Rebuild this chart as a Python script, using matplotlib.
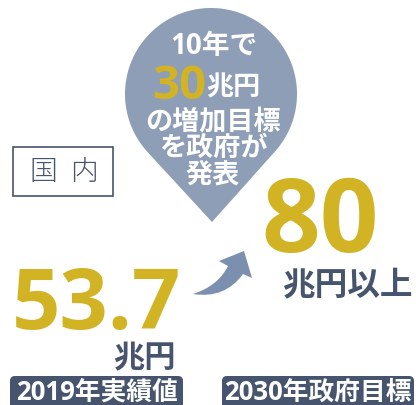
import numpy as np
import matplotlib
matplotlib.use("Agg")
import matplotlib.pyplot as plt
from matplotlib.patches import Polygon, FancyBboxPatch, Rectangle, PathPatch
from matplotlib.path import Path

plt.rcParams['font.family'] = ['Open Sans', 'Noto Sans CJK JP', 'DejaVu Sans']
JP = ['Noto Sans CJK JP', 'DejaVu Sans']

# values shown in the infographic
region = ["国", "内"]
years = ["2019年実績値", "2030年政府目標"]
values = ["53.7", "80"]
units = ["兆円", "兆円以上"]
increase = "30"
bubble_lines = ["の増加目標", "を政府が", "発表"]

GOLD = "#d2b324"
NAVY = "#46546d"
BUBBLE = "#8d9eb6"
ARROW = "#7b90ae"

W, H = 416, 406
fig = plt.figure(figsize=(W / 100, H / 100), dpi=100)
ax = fig.add_axes([0, 0, 1, 1])
ax.set_xlim(0, W)
ax.set_ylim(H, 0)
ax.axis('off')

# teardrop bubble
cx, cy, r = 211, 95, 86
tip = np.array([212, 223])
d = np.hypot(tip[0] - cx, tip[1] - cy)
th = np.degrees(np.arccos(r / d))
base = np.degrees(np.arctan2(tip[1] - cy, tip[0] - cx))
angs = np.radians(np.linspace(base - th, base + th - 360, 200))
pts = np.column_stack([cx + r * np.cos(angs), cy + r * np.sin(angs)])
pts = np.vstack([pts, tip])
ax.add_patch(Polygon(pts, closed=True, fc=BUBBLE, ec='none'))

ax.text(214, 46, "10年で", ha='center', va='center', color='white',
        fontsize=20, fontweight='bold')
ax.text(206, 99, increase, ha='right', va='baseline', color=GOLD,
        fontsize=34, fontweight='bold')
ax.text(206, 87, "兆円", ha='left', va='center', color='white',
        fontsize=19.5, fontweight='bold', family=JP)
for i, line in enumerate(bubble_lines):
    ax.text(213, 121 + i * 27, line, ha='center', va='center', color='white',
            fontsize=19.5, fontweight='bold', family=JP)

# region box
ax.add_patch(Rectangle((13, 148), 100, 49, fc='white', ec=NAVY, lw=1.2))
for x, ch in zip([43, 84], region):
    ax.text(x, 172, ch, ha='center', va='center', color=NAVY,
            fontsize=20, fontweight='light', family=JP)

# values
ax.text(96, 329, values[0], ha='center', va='baseline', color=GOLD,
        fontsize=61, fontweight='bold')
ax.text(176, 358, units[0], ha='right', va='center', color=NAVY,
        fontsize=22.5, fontweight='bold', family=JP)
ax.text(320, 252, values[1], ha='center', va='baseline', color=GOLD,
        fontsize=74, fontweight='bold')
ax.text(413, 286, units[1], ha='right', va='center', color=NAVY,
        fontsize=23.5, fontweight='bold', family=JP)

# curved arrow
verts = [(193, 295), (218, 287), (228, 267), (219, 262), (244, 252),
         (252, 279), (243, 275), (225, 300), (193, 295), (193, 295)]
codes = [Path.MOVETO, Path.CURVE3, Path.CURVE3, Path.LINETO, Path.LINETO,
         Path.LINETO, Path.LINETO, Path.CURVE3, Path.CURVE3, Path.CLOSEPOLY]
ax.add_patch(PathPatch(Path(verts, codes), fc=ARROW, ec='none'))

# year labels
for (x0, x1), lab in zip([(10, 183), (222, 414)], years):
    ax.add_patch(FancyBboxPatch((x0, 377), x1 - x0, 40,
                                boxstyle="round,pad=0,rounding_size=5",
                                fc=NAVY, ec='none'))
    ax.text((x0 + x1) / 2, 392, lab, ha='center', va='center', color='white',
            fontsize=18.5, fontweight='bold')

fig.savefig("out.png", dpi=100)
